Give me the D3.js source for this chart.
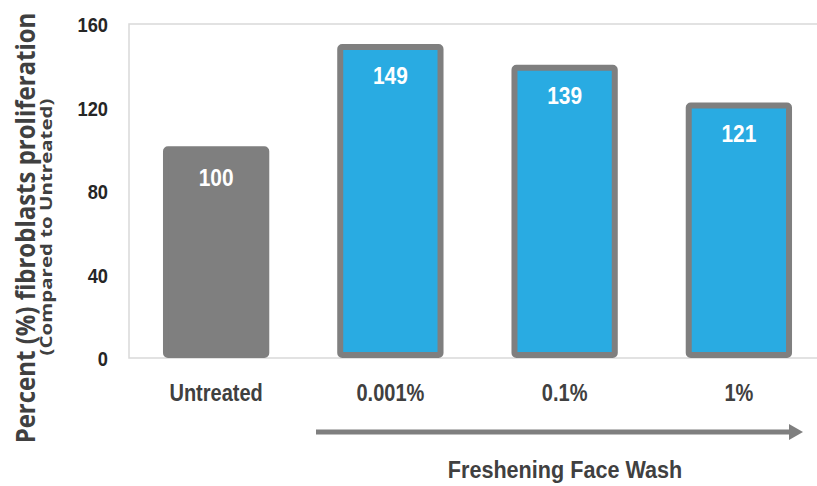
<!DOCTYPE html>
<html>
<head>
<meta charset="utf-8">
<script src="https://cdn.jsdelivr.net/npm/d3@7"></script>
<style>
body { margin: 0; background: #fff; }
svg { display: block; }
</style>
</head>
<body>
<div id="chart-area"></div>
<script>
// data
let categories = ["Untreated", "0.001%", "0.1%", "1%"];
let values = [100, 149, 139, 121];
let yTicks = [0, 40, 80, 120, 160];
let xTitle = "Freshening Face Wash";
let yTitle = "Percent (%) fibroblasts proliferation";
let ySubTitle = "(Compared to Untreated)";

let width = 817,
height = 486;

let narrow = "'Liberation Sans', Arial, sans-serif";
let wide = "'Open Sans', 'Noto Sans', sans-serif";
let squeeze = "scale(0.87,1)";

let svg = d3.select("#chart-area").append("svg")
	.attr("width", width)
	.attr("height", height);

let x = d3.scaleBand()
	.domain(categories)
	.range([129, 826])
	.paddingInner(0.39)
	.paddingOuter(0.195);

let y = d3.scaleLinear()
	.domain([0, 160])
	.range([358, 24]);

// plot area frame
svg.append("rect")
	.attr("x", 129)
	.attr("y", y(160))
	.attr("width", 826 - 129)
	.attr("height", y(0) - y(160))
	.attr("fill", "none")
	.attr("stroke", "#d9d9d9")
	.attr("stroke-width", 1.5);

// y axis labels
let yAxis = d3.axisLeft(y).tickValues(yTicks).tickSize(0).tickPadding(0);
let gy = svg.append("g")
	.attr("transform", "translate(108,0)")
	.call(yAxis);
gy.select(".domain").remove();
gy.selectAll("text")
	.attr("dy", "0.36em")
	.attr("transform", squeeze)
	.attr("fill", "#262626")
	.style("font-family", narrow)
	.style("font-weight", "bold")
	.style("font-size", "21px");

// bars
let sw = 6;
svg.selectAll(".bar")
	.data(values)
	.enter().append("rect")
	.attr("class", "bar")
	.attr("x", (d, i) => x(categories[i]) + sw / 2)
	.attr("y", d => y(d))
	.attr("width", x.bandwidth() - sw)
	.attr("height", d => y(0) - y(d) - sw / 2)
	.attr("rx", 2)
	.attr("fill", (d, i) => i === 0 ? "#7f7f7f" : "#29abe2")
	.attr("stroke", "#7f7f7f")
	.attr("stroke-width", sw);

// value labels
svg.selectAll(".val")
	.data(values)
	.enter().append("g")
	.attr("class", "val")
	.attr("transform", (d, i) => "translate(" + (x(categories[i]) + x.bandwidth() / 2) + "," + (y(d) + 28) + ")")
	.append("text")
	.attr("transform", squeeze)
	.attr("dy", "0.36em")
	.attr("text-anchor", "middle")
	.attr("fill", "#fff")
	.style("font-family", narrow)
	.style("font-weight", "bold")
	.style("font-size", "24px")
	.text(d => d);

// category labels
let xAxis = d3.axisBottom(x).tickSize(0).tickPadding(0);
let gx = svg.append("g")
	.attr("transform", "translate(0,393)")
	.call(xAxis);
gx.select(".domain").remove();
gx.selectAll("text")
	.attr("dy", "0.36em")
	.attr("transform", squeeze)
	.attr("fill", "#404040")
	.style("font-family", narrow)
	.style("font-weight", "bold")
	.style("font-size", "23px");

// arrow under treated groups
svg.append("line")
	.attr("x1", 316)
	.attr("x2", 791)
	.attr("y1", 432)
	.attr("y2", 432)
	.attr("stroke", "#7f7f7f")
	.attr("stroke-width", 5);
svg.append("path")
	.attr("d", "M789,424 L803,432 L789,440 Z")
	.attr("fill", "#7f7f7f");

svg.append("g")
	.attr("transform", "translate(565,469)")
	.append("text")
	.attr("transform", "scale(0.9,1)")
	.attr("dy", "0.36em")
	.attr("text-anchor", "middle")
	.attr("fill", "#404040")
	.style("font-family", narrow)
	.style("font-weight", "bold")
	.style("font-size", "24px")
	.text(xTitle);

// y titles, squeezed along their length to fit
function rotTitle(txt, cx, cy, size, len) {
	let t = svg.append("text")
		.attr("text-anchor", "middle")
		.attr("fill", "#404040")
		.style("font-family", wide)
		.style("font-weight", "bold")
		.style("font-size", size + "px")
		.text(txt);
	let natural = t.node().getComputedTextLength();
	t.attr("transform", "translate(" + cx + "," + cy + ") rotate(-90) scale(" + (len / natural) + ",1)");
}
rotTitle(yTitle, 35, 228, 26, 431);
rotTitle(ySubTitle, 52, 227, 16, 257);
</script>
</body>
</html>
